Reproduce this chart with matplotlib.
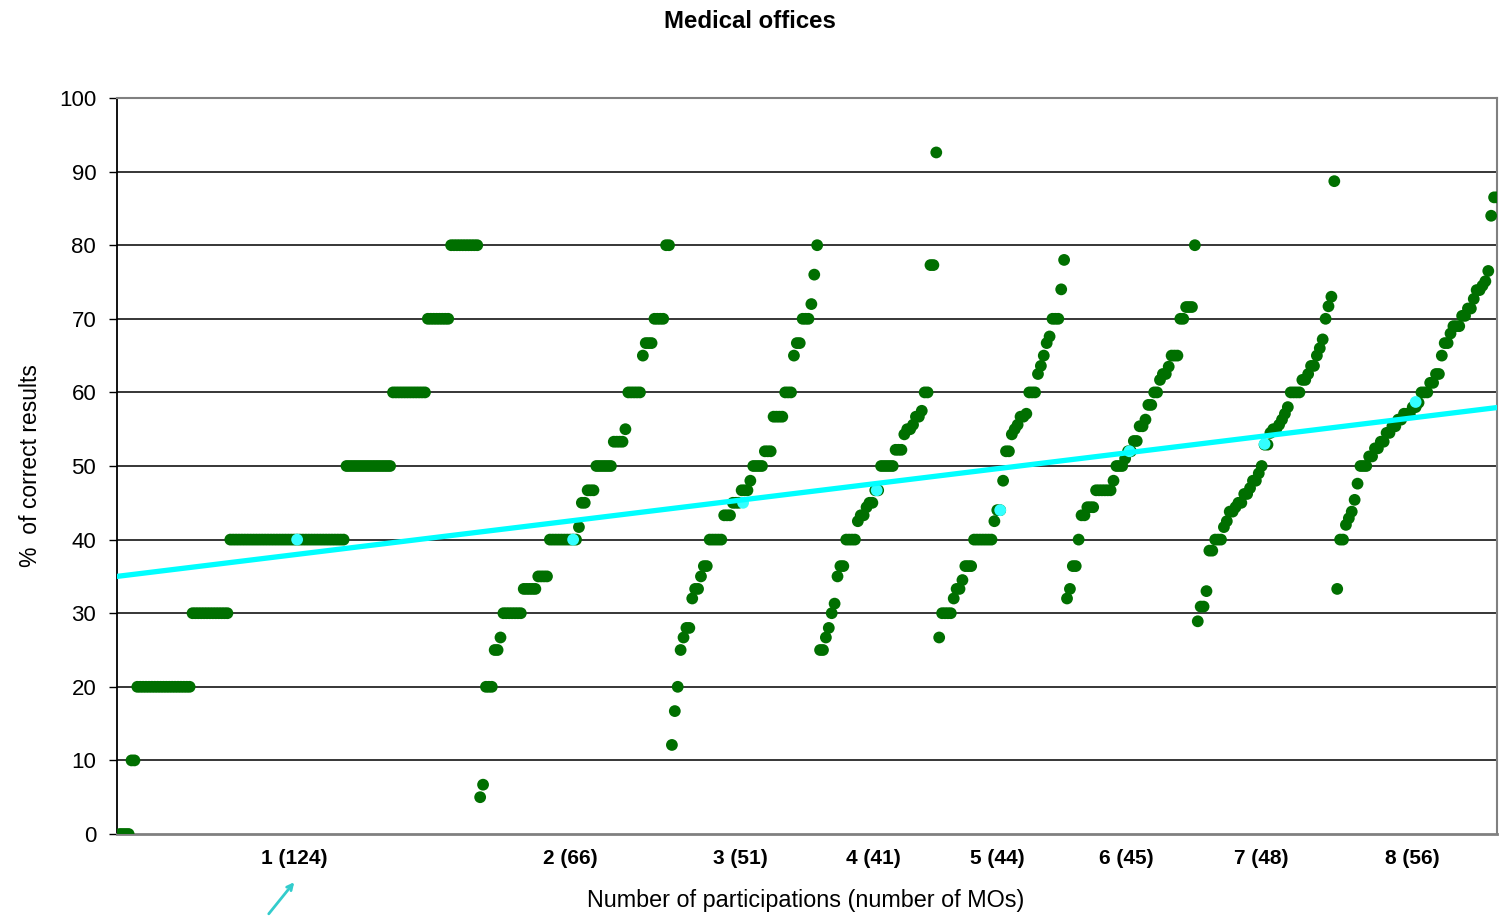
import numpy as np
import matplotlib.pyplot as plt

plt.rcParams['font.family'] = ['Liberation Sans', 'DejaVu Sans']

# groups by number of participations; each one sorted ascending as (value, how many MOs)
group_labels = ["1 (124)", "2 (66)", "3 (51)", "4 (41)", "5 (44)", "6 (45)", "7 (48)", "8 (56)"]

g1_values = [0, 10, 20, 30, 40, 50, 60, 70, 80]
g1_counts = [4, 2, 19, 13, 40, 16, 12, 8, 10]

g2_values = [5, 6.7, 20, 25, 26.7, 30, 33.3, 35, 40, 41.7, 45, 46.7, 50, 53.3, 55, 60, 65, 66.7, 70, 80]
g2_counts = [1, 1, 3, 2, 1, 7, 5, 4, 10, 1, 2, 3, 6, 4, 1, 5, 1, 3, 4, 2]

g3_values = [12.1, 16.7, 20, 25, 26.7, 28, 32, 33.3, 35, 36.4, 40, 43.3, 45, 46.7, 48, 50, 52,
             56.7, 60, 65, 66.7, 70, 72, 76, 80]
g3_counts = [1, 1, 1, 1, 1, 2, 1, 2, 1, 2, 5, 3, 3, 3, 1, 4, 3, 4, 3, 1, 2, 3, 1, 1, 1]

g4_values = [25, 26.7, 28, 30, 31.3, 35, 36.4, 40, 42.5, 43.3, 44.4, 45, 46.7, 50, 52.2,
             54.3, 55, 55.6, 56.7, 57.5, 60, 77.3, 92.6]
g4_counts = [2, 1, 1, 1, 1, 1, 2, 4, 1, 2, 1, 2, 2, 5, 3, 1, 2, 1, 2, 1, 2, 2, 1]

g5_values = [26.7, 30, 32, 33.3, 34.5, 36.4, 40, 42.5, 44, 48, 52, 54.3, 55, 55.6, 56.7, 57.1,
             60, 62.5, 63.6, 65, 66.7, 67.6, 70, 74, 78]
g5_counts = [1, 4, 1, 2, 1, 3, 7, 1, 2, 1, 2, 1, 1, 1, 2, 1, 3, 1, 1, 1, 1, 1, 3, 1, 1]

g6_values = [32, 33.3, 36.4, 40, 43.3, 44.4, 46.7, 48, 50, 51, 52, 53.4, 55.4, 56.3, 58.3, 60,
             61.7, 62.5, 63.5, 65, 70, 71.6, 80]
g6_counts = [1, 1, 2, 1, 2, 3, 6, 1, 3, 1, 2, 2, 2, 1, 2, 2, 1, 2, 1, 3, 2, 3, 1]

g7_values = [28.9, 30.9, 33, 38.5, 40, 41.7, 42.5, 43.8, 44.4, 45, 46.2, 47, 48, 49, 50, 52.9,
             54.5, 55, 55.6, 56.3, 57.1, 58, 60, 61.7, 62.5, 63.6, 65, 66, 67.2, 70, 71.7, 73, 88.7]
g7_counts = [1, 2, 1, 2, 3, 1, 1, 2, 1, 2, 2, 1, 2, 1, 1, 2,
             1, 2, 1, 1, 1, 1, 4, 2, 1, 2, 1, 1, 1, 1, 1, 1, 1]

g8_values = [33.3, 40, 42, 42.9, 43.8, 45.4, 47.6, 50, 51.3, 52.4, 53.3, 54.5, 55.4, 56.3, 57.1, 58,
             58.6, 60, 61.3, 62.5, 65, 66.7, 68, 69, 70.4, 71.4, 72.7, 73.9, 74.5, 75.1, 76.5, 84, 86.5]
g8_counts = [1, 2, 1, 1, 1, 1, 1, 3, 2, 2, 2, 2, 2, 2, 3, 2,
             1, 3, 2, 2, 1, 2, 1, 3, 2, 2, 1, 2, 1, 1, 1, 1, 2]

# group medians (cyan dots)
median_values = [40, 40, 45, 46.7, 44, 52, 53, 58.7]

# linear trend over all MOs
trend_intercept = 35.0
trend_slope = 0.0483

groups = [(g1_values, g1_counts), (g2_values, g2_counts), (g3_values, g3_counts),
          (g4_values, g4_counts), (g5_values, g5_counts), (g6_values, g6_counts),
          (g7_values, g7_counts), (g8_values, g8_counts)]

y_all = []
centers = []
offset = 0
for vals, cnts in groups:
    ys = np.repeat(vals, cnts)
    y_all.append(ys)
    centers.append(offset + len(ys) / 2)
    offset += len(ys)
y_all = np.concatenate(y_all)
x_all = np.arange(1, len(y_all) + 1)
n_total = len(y_all)
centers = np.array(centers)

fig = plt.figure(figsize=(14.99, 9.23), dpi=100)
ax = fig.add_axes([117 / 1499, 1 - 834 / 923, 1380 / 1499, 736 / 923])

for y in range(10, 100, 10):
    ax.axhline(y, color='black', lw=1.1, zorder=1)

ax.scatter(x_all, y_all, s=72, color='#006f00', edgecolors='none', zorder=3)
ax.scatter(centers, median_values, s=72, color='#33ffff', edgecolors='none', zorder=4)

tx = np.array([0, n_total])
ax.plot(tx, trend_intercept + trend_slope * tx, color='#00ffff', lw=3.8, zorder=5)

ax.set_xlim(0, n_total)
ax.set_ylim(0, 100)
ax.set_yticks(range(0, 101, 10))
ax.tick_params(axis='y', labelsize=16, length=6, width=1, pad=9, colors='black')
ax.set_xticks(centers - 1)
ax.set_xticklabels(group_labels, fontsize=15, fontweight='bold')
ax.tick_params(axis='x', length=0, pad=11)

for side in ['top', 'right', 'bottom']:
    ax.spines[side].set_color('#808080')
    ax.spines[side].set_linewidth(1.5)
ax.spines['bottom'].set_linewidth(2)
ax.spines['left'].set_color('black')
ax.spines['left'].set_linewidth(1.3)

fig.text(750 / 1499, 1 - 21 / 923, "Medical offices", ha='center', va='center',
         fontsize=17.3, fontweight='bold')
fig.text(806 / 1499, 1 - 900 / 923, "Number of participations (number of MOs)",
         ha='center', va='center', fontsize=16.8)
fig.text(31 / 1499, 1 - 466 / 923, "%  of correct results", ha='center', va='center',
         rotation=90, fontsize=16.5)

ax.annotate("", xy=(296, 923 - 880), xytext=(267, 923 - 916),
            xycoords='figure pixels', textcoords='figure pixels',
            arrowprops=dict(arrowstyle='->', color='#33cccc', lw=2))

fig.savefig("out.png", dpi=100)
